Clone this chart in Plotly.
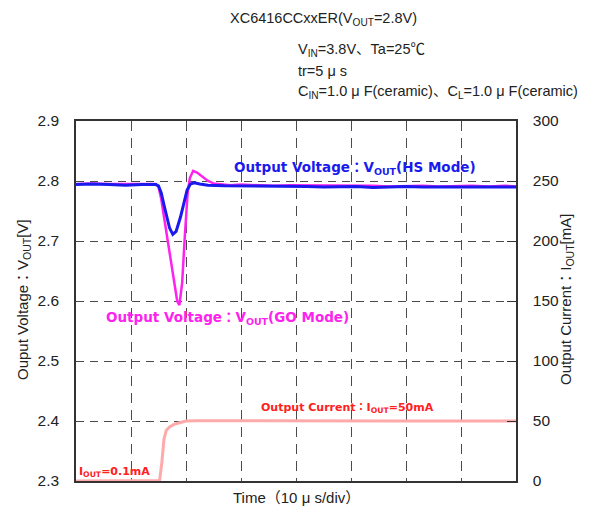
import plotly.graph_objects as go

# ---- data (time in microseconds) ----
t_hs = [0, 3, 6, 9, 12, 14.5, 15, 15.5, 16, 16.5, 17, 17.6, 18.2, 19, 19.6, 20.2, 20.8, 21.5, 22.5,
        24, 27, 30, 33, 36, 39, 42, 45, 48, 51, 54, 57, 60, 63, 66, 69, 72, 75, 78, 80]
v_hs = [2.794, 2.795, 2.794, 2.793, 2.794, 2.794, 2.792, 2.780, 2.760, 2.740, 2.722, 2.711, 2.716,
        2.740, 2.765, 2.785, 2.795, 2.797, 2.795, 2.793, 2.792, 2.792, 2.791, 2.792, 2.792, 2.791,
        2.790, 2.791, 2.791, 2.789, 2.790, 2.791, 2.790, 2.790, 2.791, 2.790, 2.790, 2.791, 2.790]

t_go = [0, 3, 6, 9, 12, 14.5, 15, 15.5, 16, 16.5, 17, 17.5, 18, 18.4, 18.8, 19.3, 19.8, 20.3, 20.7,
        21.3, 22, 23, 24, 25, 26, 28, 30, 33, 36, 39, 42, 45, 48, 51, 54, 57, 60, 63, 66, 69, 72, 75, 78, 80]
v_go = [2.795, 2.796, 2.795, 2.795, 2.796, 2.795, 2.790, 2.770, 2.740, 2.710, 2.680, 2.650, 2.620,
        2.600, 2.593, 2.630, 2.710, 2.780, 2.805, 2.817, 2.814, 2.807, 2.800, 2.796, 2.795, 2.793,
        2.794, 2.793, 2.792, 2.793, 2.793, 2.792, 2.793, 2.792, 2.792, 2.791, 2.792, 2.792, 2.791,
        2.792, 2.792, 2.791, 2.792, 2.791]

t_i = [0, 5, 10, 15, 15.2, 15.6, 16.0, 16.4, 17, 18, 19, 20, 22, 30, 40, 50, 55, 60, 70, 80]
i_out = [0.1, 0.1, 0.1, 0.1, 0.5, 15, 35, 42, 45, 47.5, 49, 50, 50.2, 50.1, 50, 49.8, 49.5, 50, 50, 50]

y_ticks = [2.3, 2.4, 2.5, 2.6, 2.7, 2.8, 2.9]
y2_ticks = [0, 50, 100, 150, 200, 250, 300]

FONT = "Liberation Sans, Arial, Noto Sans CJK JP, sans-serif"
BFONT = "DejaVu Sans, Noto Sans CJK JP, sans-serif"
GRID = "#4a4a4a"

fig = go.Figure()
fig.add_trace(go.Scatter(x=t_i, y=i_out, yaxis="y2", mode="lines",
                         line=dict(color="#ffaaaa", width=3), hoverinfo="skip"))
fig.add_trace(go.Scatter(x=t_go, y=v_go, mode="lines",
                         line=dict(color="#ff22ee", width=2.5), hoverinfo="skip"))
fig.add_trace(go.Scatter(x=t_hs, y=v_hs, mode="lines",
                         line=dict(color="#1a1aee", width=3), hoverinfo="skip"))

L, R, T, B = 76, 516, 121, 481
W, H = R - L, B - T


def px(x):
    return (x - L) / W


def py(y):
    return (B - y) / H


ann = []


def add(text, x, y, size, color="#222", bold=False, xanchor="left", angle=0, family=FONT):
    ann.append(dict(text=("<b>%s</b>" % text) if bold else text, x=px(x), y=py(y),
                    xref="paper", yref="paper", showarrow=False, xanchor=xanchor,
                    yanchor="middle", textangle=angle,
                    font=dict(family=family, size=size, color=color)))


add("XC6416CCxxER(V<sub>OUT</sub>=2.8V)", 228, 19, 14.5)
add("V<sub>IN</sub>=3.8V、Ta=25℃", 296, 50, 14.5)
add("tr=5 μ s", 296, 71, 14.5)
add("C<sub>IN</sub>=1.0 μ F(ceramic)、C<sub>L</sub>=1.0 μ F(ceramic)", 296, 92, 14.5)
add("Output Voltage：V<sub>OUT</sub>(HS Mode)", 232, 168, 13.5, "#1a1aee", True, family=BFONT)
add("Output Voltage：V<sub>OUT</sub>(GO Mode)", 104, 318, 13.5, "#ff22ee", True, family=BFONT)
add("Output Current：I<sub>OUT</sub>=50mA", 259, 408, 11, "#ff2020", True, family=BFONT)
add("I<sub>OUT</sub>=0.1mA", 77, 472, 11, "#ff2020", True, family=BFONT)
add("Ouput Voltage：V<sub>OUT</sub>[V]", 23, 300, 15, xanchor="center", angle=-90)
add("Output Current：I<sub>OUT</sub>[mA]", 566, 300, 15, xanchor="center", angle=-90)
add("Time（10 μ s/div）", 296, 497, 15, xanchor="center")

fig.update_layout(
    width=595, height=506,
    margin=dict(l=L, r=595 - R, t=T, b=506 - B),
    paper_bgcolor="white", plot_bgcolor="white",
    showlegend=False,
    font=dict(family=FONT, color="#222"),
    annotations=ann,
    xaxis=dict(range=[0, 80], dtick=10, tick0=0, showticklabels=False,
               showgrid=True, gridcolor=GRID, griddash="10px,7px", gridwidth=1,
               showline=True, linecolor="#333", linewidth=1.5, mirror=True,
               zeroline=False, ticks=""),
    yaxis=dict(range=[2.3, 2.9], tickvals=y_ticks, ticktext=["%.1f" % v for v in y_ticks],
               showgrid=True, gridcolor=GRID, griddash="8px,6px", gridwidth=1,
               showline=True, linecolor="#333", linewidth=1.5,
               zeroline=False, ticks="", ticklabelstandoff=12,
               tickfont=dict(family=FONT, size=15.5, color="#222")),
    yaxis2=dict(range=[0, 300], tickvals=y2_ticks, overlaying="y", side="right",
                showgrid=False, showline=True, linecolor="#333", linewidth=1.5,
                zeroline=False, ticks="inside", ticklen=9, tickcolor="#333",
                ticklabelstandoff=12,
                tickfont=dict(family=FONT, size=15.5, color="#222")),
)

fig.write_html("out.html", config={"displayModeBar": False})

# remove the default page margin so the figure sits at the window's top-left corner
with open("out.html", encoding="utf-8") as f:
    html = f.read()
html = html.replace("<head>", "<head><style>html,body{margin:0;padding:0;overflow:hidden}</style>", 1)
with open("out.html", "w", encoding="utf-8") as f:
    f.write(html)
